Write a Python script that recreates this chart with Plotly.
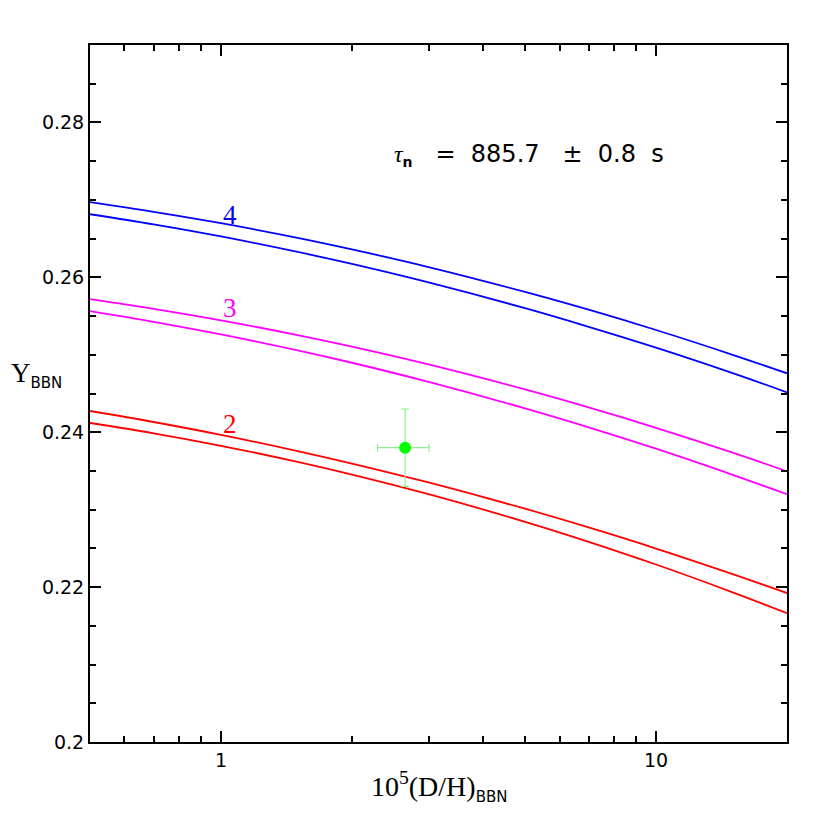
import math
import plotly.graph_objects as go

# x values: 10^5 (D/H)_BBN
dh = [0.5, 0.7, 1.0, 1.5, 2.0, 3.0, 5.0, 7.0, 10.0, 15.0, 20.0]

# Y_BBN curves (pairs for N_nu = 2, 3, 4)
y2_upper = [0.24274, 0.24132, 0.23966, 0.23757, 0.23596, 0.23351, 0.23012, 0.22770, 0.22498, 0.22168, 0.21923]
y2_lower = [0.24119, 0.23986, 0.23825, 0.23617, 0.23453, 0.23200, 0.22843, 0.22585, 0.22292, 0.21933, 0.21663]
y3_upper = [0.25719, 0.25594, 0.25445, 0.25254, 0.25105, 0.24875, 0.24552, 0.24320, 0.24057, 0.23737, 0.23495]
y3_lower = [0.25564, 0.25426, 0.25263, 0.25057, 0.24897, 0.24650, 0.24308, 0.24063, 0.23787, 0.23450, 0.23199]
y4_upper = [0.26970, 0.26846, 0.26699, 0.26510, 0.26361, 0.26133, 0.25812, 0.25582, 0.25320, 0.25000, 0.24761]
y4_lower = [0.26815, 0.26684, 0.26528, 0.26328, 0.26173, 0.25934, 0.25601, 0.25361, 0.25092, 0.24763, 0.24515]

# observational point
obs_x = [2.65]
obs_xerr = [0.36]
obs_y = [0.238]
obs_yerr = [0.005]

# curve labels (N_nu)
curve_labels = ["4", "3", "2"]
curve_label_x = [1.05, 1.05, 1.05]
curve_label_y = [0.2680, 0.2560, 0.2410]

# ticks
y_ticks = [0.20, 0.22, 0.24, 0.26, 0.28]
y_ticktext = ["0.2", "0.22", "0.24", "0.26", "0.28"]
y_minor = [0.205, 0.21, 0.215, 0.225, 0.23, 0.235, 0.245, 0.25, 0.255, 0.265, 0.27, 0.275, 0.285]
x_ticks = [1, 10]
x_ticktext = ["1", "10"]
x_minor = [0.6, 0.7, 0.8, 0.9, 2, 3, 4, 5, 6, 7, 8, 9, 20]

BLUE = "#0000ff"
MAG = "#ff00ff"
RED = "#ff0000"

fig = go.Figure()
for ys, col in [(y4_upper, BLUE), (y4_lower, BLUE), (y3_upper, MAG), (y3_lower, MAG),
                (y2_upper, RED), (y2_lower, RED)]:
    fig.add_trace(go.Scatter(x=dh, y=ys, mode="lines", line=dict(color=col, width=1.8, shape="spline"),
                             showlegend=False, hoverinfo="skip"))

fig.add_trace(go.Scatter(
    x=obs_x, y=obs_y, mode="markers",
    marker=dict(color="#00ff00", size=12),
    error_x=dict(type="data", array=obs_xerr, color="#90f090", thickness=1.2, width=4),
    error_y=dict(type="data", array=obs_yerr, color="#90f090", thickness=1.2, width=4),
    showlegend=False))

for t, lx, ly, col in zip(curve_labels, curve_label_x, curve_label_y, [BLUE, MAG, RED]):
    fig.add_annotation(x=math.log10(lx), y=ly, xref="x", yref="y", text=t, showarrow=False,
                       font=dict(family="Liberation Serif", size=27, color=col),
                       xanchor="center", yanchor="middle")

axis_common = dict(showline=True, linecolor="black", linewidth=2, mirror="allticks",
                   ticks="inside", tickcolor="black", tickwidth=1.5, showgrid=False, zeroline=False,
                   tickfont=dict(family="DejaVu Sans", size=19, color="black"))

fig.update_xaxes(type="log", range=[-0.30103, 1.30103], tickvals=x_ticks, ticktext=x_ticktext,
                 ticklen=11, minor=dict(tickvals=x_minor, ticks="inside", ticklen=6, tickcolor="black", tickwidth=1.5),
                 **axis_common)
fig.update_yaxes(range=[0.2, 0.29], tickvals=y_ticks, ticktext=y_ticktext, ticklen=11,
                 minor=dict(tickvals=y_minor, ticks="inside", ticklen=6, tickcolor="black", tickwidth=1.5),
                 **axis_common)

SUB = "<sub><span style='font-family:DejaVu Sans;font-size:15px'>BBN</span></sub>"
fig.add_annotation(xref="paper", yref="paper", x=-0.116, y=0.527, xanchor="left", yanchor="middle",
                   text="Y" + SUB,
                   showarrow=False, font=dict(family="Liberation Serif", size=27, color="black"))
fig.add_annotation(xref="paper", yref="paper", x=0.501, y=-0.064, xanchor="center", yanchor="middle",
                   text="10<sup>5</sup>(D/H)" + SUB,
                   showarrow=False, font=dict(family="Liberation Serif", size=28, color="black"))
fig.add_annotation(xref="paper", yref="paper", x=0.433, y=0.842, xanchor="left", yanchor="middle",
                   text="<i style='font-family:Liberation Serif'>τ</i><sub><span style='font-size:14px'><b>n</b></span></sub>   =  885.7   ±  0.8  s",
                   showarrow=False, font=dict(family="DejaVu Sans", size=24, color="black"))

fig.update_layout(width=830, height=830, plot_bgcolor="white", paper_bgcolor="white",
                  margin=dict(l=82, r=51, t=37, b=96))

fig.write_html("out.html")
